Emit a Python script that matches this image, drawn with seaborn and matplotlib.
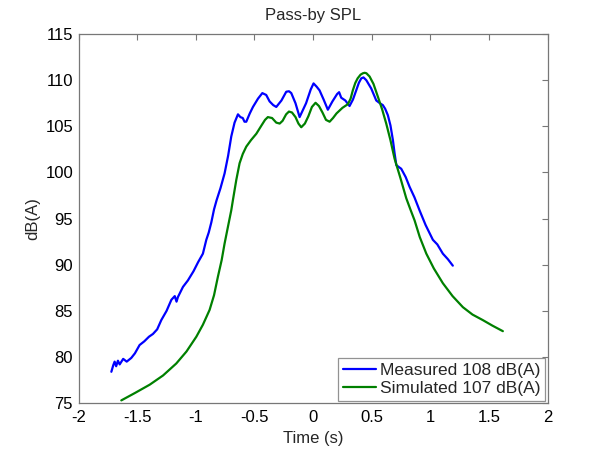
import matplotlib
matplotlib.use("Agg")
import matplotlib.pyplot as plt
import seaborn as sns
import pandas as pd

# Measured pass-by SPL (blue)
meas_t = [-1.721, -1.705, -1.693, -1.680, -1.665, -1.650, -1.620, -1.590, -1.551,
          -1.520, -1.480, -1.440, -1.400, -1.366, -1.330, -1.295, -1.250, -1.209,
          -1.180, -1.165, -1.153, -1.110, -1.068, -1.020, -0.980, -0.940, -0.911,
          -0.890, -0.868, -0.845, -0.823, -0.790, -0.755, -0.725, -0.698, -0.670,
          -0.641, -0.620, -0.600, -0.585, -0.570, -0.540, -0.513, -0.470, -0.433,
          -0.400, -0.371, -0.340, -0.314, -0.270, -0.229, -0.205, -0.186, -0.150,
          -0.115, -0.060, -0.020, 0.004, 0.030, 0.055, 0.090, 0.126, 0.165, 0.205,
          0.222, 0.240, 0.275, 0.311, 0.340, 0.368, 0.390, 0.411, 0.430, 0.454,
          0.496, 0.539, 0.570, 0.595, 0.615, 0.638, 0.660, 0.681, 0.695, 0.710,
          0.730, 0.752, 0.790, 0.823, 0.865, 0.908, 0.960, 1.022, 1.060, 1.107,
          1.150, 1.192]
meas_db = [78.4, 79.1, 79.5, 79.0, 79.6, 79.2, 79.8, 79.5, 79.9,
           80.4, 81.3, 81.7, 82.2, 82.5, 83.0, 84.0, 85.0, 86.2,
           86.6, 86.0, 86.5, 87.6, 88.3, 89.3, 90.3, 91.2, 92.7,
           93.5, 94.6, 96.0, 97.0, 98.3, 99.9, 101.8, 103.9, 105.4,
           106.3, 106.0, 105.9, 105.5, 105.5, 106.4, 107.1, 108.0, 108.6,
           108.4, 107.7, 107.3, 107.1, 107.8, 108.75, 108.8, 108.6, 107.5,
           106.0, 107.5, 109.0, 109.65, 109.3, 108.9, 107.9, 106.8, 107.7, 108.5,
           108.7, 108.1, 107.8, 107.2, 107.9, 108.9, 109.7, 110.2, 110.3, 110.0,
           109.1, 107.8, 107.5, 107.3, 106.9, 106.2, 105.1, 103.5, 102.1, 100.8,
           100.6, 100.4, 99.5, 98.45, 97.3, 95.9, 94.3, 92.7, 92.2, 91.2,
           90.6, 89.9]

# Simulated pass-by SPL (green)
sim_t = [-1.636, -1.520, -1.394, -1.280, -1.167, -1.080, -0.996, -0.940, -0.883,
         -0.845, -0.812, -0.780, -0.755, -0.725, -0.698, -0.684, -0.655, -0.627,
         -0.600, -0.570, -0.530, -0.484, -0.440, -0.410, -0.386, -0.350, -0.314,
         -0.285, -0.260, -0.230, -0.206, -0.180, -0.150, -0.125, -0.101, -0.070,
         -0.040, -0.010, 0.021, 0.050, 0.080, 0.110, 0.141, 0.170, 0.200, 0.250,
         0.297, 0.320, 0.339, 0.360, 0.380, 0.405, 0.425, 0.440, 0.455, 0.482,
         0.515, 0.553, 0.590, 0.624, 0.660, 0.695, 0.745, 0.795, 0.830, 0.866,
         0.910, 0.966, 1.030, 1.107, 1.190, 1.278, 1.360, 1.448, 1.530, 1.619]
sim_db = [75.3, 76.1, 77.0, 78.0, 79.3, 80.6, 82.2, 83.5, 85.1,
          86.7, 88.7, 90.5, 92.3, 94.2, 95.9, 97.0, 99.2, 101.0,
          102.0, 102.8, 103.5, 104.2, 105.1, 105.7, 106.0, 105.9, 105.4,
          105.3, 105.6, 106.3, 106.6, 106.5, 106.0, 105.3, 104.9, 105.3,
          106.1, 107.1, 107.55, 107.2, 106.5, 105.7, 105.5, 105.9, 106.4, 107.0,
          107.4, 108.0, 108.9, 109.7, 110.2, 110.6, 110.75, 110.8, 110.75, 110.4,
          109.6, 108.2, 106.8, 105.3, 103.5, 101.5, 99.4, 97.2, 96.0, 94.8,
          93.0, 91.2, 89.6, 88.0, 86.6, 85.4, 84.6, 84.0, 83.4, 82.8]

meas_label = "Measured 108 dB(A)"
sim_label = "Simulated 107 dB(A)"
title = "Pass-by SPL"
xlabel = "Time (s)"
ylabel = "dB(A)"

sns.set_style("white")
plt.rcParams["font.family"] = ["Liberation Sans", "DejaVu Sans"]

df = pd.concat([
    pd.DataFrame({"t": meas_t, "db": meas_db, "series": meas_label}),
    pd.DataFrame({"t": sim_t, "db": sim_db, "series": sim_label}),
], ignore_index=True)

fig = plt.figure(figsize=(6.05, 4.54), dpi=100)
ax = fig.add_axes([0.13, 0.112, 0.775, 0.813])
sns.lineplot(data=df, x="t", y="db", hue="series", sort=False,
             palette={meas_label: "#0000ff", sim_label: "#008000"},
             linewidth=1.6, ax=ax, estimator=None)

ax.set_xlim(-2, 2)
ax.set_ylim(75, 115)
ax.set_xticks([-2, -1.5, -1, -0.5, 0, 0.5, 1, 1.5, 2])
ax.set_xticklabels(["-2", "-1.5", "-1", "-0.5", "0", "0.5", "1", "1.5", "2"])
ax.set_yticks(range(75, 116, 5))
edge = "#777777"
for s in ax.spines.values():
    s.set_color(edge)
    s.set_linewidth(0.9)
    s.set_visible(True)
ax.tick_params(direction="in", length=4, width=0.8, color=edge,
               top=True, right=True, labelsize=12, labelcolor="black")
ax.tick_params(axis="x", pad=5)
ax.tick_params(axis="y", pad=4)
ax.set_title(title, fontsize=12, pad=10)
ax.set_xlabel(xlabel, fontsize=12, labelpad=4)
ax.set_ylabel(ylabel, fontsize=12, labelpad=4)

leg = ax.legend(loc="lower right", fontsize=12.5, frameon=True, fancybox=False,
                borderpad=0.3, handlelength=1.9, handletextpad=0.2,
                labelspacing=0.15, borderaxespad=0.12)
leg.get_frame().set_edgecolor(edge)
leg.get_frame().set_linewidth(0.9)
leg.set_title(None)

fig.savefig("out.png", dpi=100)
